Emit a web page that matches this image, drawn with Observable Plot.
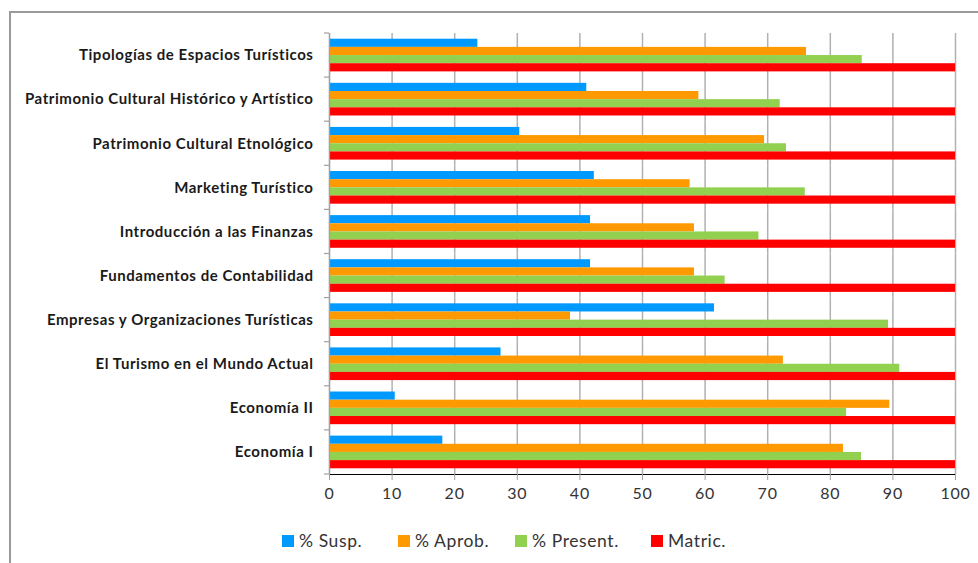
<!DOCTYPE html>
<html>
<head>
<meta charset="utf-8">
<script src="https://cdn.jsdelivr.net/npm/d3@7"></script>
<script src="https://cdn.jsdelivr.net/npm/@observablehq/plot@0.6"></script>
<style>
  body { margin: 0; background: #fff; }
  #wrap { position: relative; width: 978px; height: 563px; overflow: hidden; background: #fff; }
  #frame { position: absolute; left: 9px; top: 11px; width: 1000px; height: 600px;
           border-top: 2px solid #9a9a9a; border-left: 2px solid #9a9a9a; }
  #chart { position: absolute; left: 0; top: 0; }
  #chart g[aria-label^="fy-axis"] text { font-family: Lato, sans-serif; font-weight: bold; font-size: 15px; letter-spacing: 0.55px; fill: #1a1a1a; }
  #chart g[aria-label^="x-axis"] text { font-family: Lato, sans-serif; font-size: 16px; letter-spacing: 0.8px; fill: #333; }
  #chart g[aria-label^="x-axis"] path, #chart g[aria-label^="x-axis"] line { stroke: #a0a0a0; }
  #legend { position: absolute; left: 0; top: 530px; width: 978px; height: 24px;
            font-family: Lato, sans-serif; font-size: 17.5px; letter-spacing: 0.6px; color: #333; }
  #legend .item { position: absolute; top: 0; display: flex; align-items: center; white-space: nowrap; }
  #legend .sw { width: 12px; height: 12px; margin-right: 5px; }
</style>
</head>
<body>
<div id="wrap">
  <div id="frame"></div>
  <div id="chart"></div>
  <div id="legend"></div>
</div>
<script>
const categories = [
  "Tipologías de Espacios Turísticos",
  "Patrimonio Cultural Histórico y Artístico",
  "Patrimonio Cultural Etnológico",
  "Marketing Turístico",
  "Introducción a las Finanzas",
  "Fundamentos de Contabilidad",
  "Empresas y Organizaciones Turísticas",
  "El Turismo en el Mundo Actual",
  "Economía II",
  "Economía I"
];
const seriesNames = ["% Susp.", "% Aprob.", "% Present.", "Matric."];
const seriesColors = ["#0099ff", "#ff9900", "#92d050", "#ff0000"];
const susp    = [23.7, 41.1, 30.4, 42.3, 41.7, 41.7, 61.5, 27.4, 10.5, 18.1];
const aprob   = [76.2, 59.0, 69.5, 57.6, 58.3, 58.3, 38.5, 72.5, 89.5, 82.1];
const present = [85.1, 72.0, 73.0, 76.0, 68.6, 63.2, 89.3, 91.1, 82.6, 85.0];
const matric  = [100, 100, 100, 100, 100, 100, 100, 100, 100, 100];
const xTicks = [0, 10, 20, 30, 40, 50, 60, 70, 80, 90, 100];
const legendLeft = [282, 398, 515, 651];

const seriesValues = [susp, aprob, present, matric];
const data = [];
categories.forEach((c, i) => {
  seriesNames.forEach((s, j) => data.push({cat: c, series: s, value: seriesValues[j][i]}));
});

const chart = Plot.plot({
  width: 978,
  height: 515,
  marginLeft: 329,
  marginRight: 23,
  marginTop: 33,
  marginBottom: 41,
  style: {fontFamily: "Lato, sans-serif", fontSize: "15px", background: "transparent", overflow: "visible"},
  x: {domain: [0, 100], ticks: xTicks, tickSize: 6, tickPadding: 7, label: null, line: true},
  y: {domain: seriesNames, axis: null, paddingInner: 0, paddingOuter: 0.7, round: false},
  fy: {domain: categories, axis: "left", padding: 0, round: false, tickSize: 0, tickPadding: 16, label: null},
  color: {domain: seriesNames, range: seriesColors},
  marks: [
    Plot.ruleX(xTicks, {stroke: "#b0b0b0", strokeWidth: 1.5}),
    Plot.barX(data, {x: "value", y: "series", fy: "cat", fill: "series"}),
    Plot.ruleX([0], {stroke: "#a0a0a0", strokeWidth: 1.2})
  ]
});
document.getElementById("chart").appendChild(chart);

// category boundary tick marks on the left axis
const fyScale = chart.scale("fy");
const xScale = chart.scale("x");
const svgSel = d3.select(chart);
const xZero = xScale.range[0];
const fyTop = fyScale.range[0];
const fyStep = fyScale.step;
const tickG = svgSel.append("g");
d3.range(categories.length + 1).forEach(i => {
  const yy = fyTop + i * fyStep;
  tickG.append("line").attr("x1", xZero - 5).attr("x2", xZero).attr("y1", yy).attr("y2", yy)
    .attr("stroke", "#a0a0a0").attr("stroke-width", 1.2);
});

const legend = document.getElementById("legend");
seriesNames.forEach((s, j) => {
  const item = document.createElement("div");
  item.className = "item";
  item.style.left = legendLeft[j] + "px";
  item.innerHTML = `<span class="sw" style="background:${seriesColors[j]}"></span><span>${s}</span>`;
  legend.appendChild(item);
});
</script>
</body>
</html>
